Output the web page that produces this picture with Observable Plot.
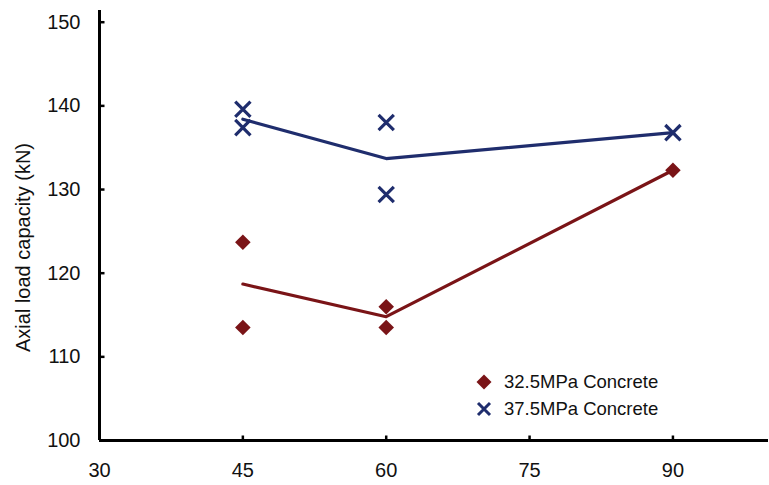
<!DOCTYPE html>
<html>
<head>
<meta charset="utf-8">
<script src="https://cdn.jsdelivr.net/npm/d3@7"></script>
<script src="https://cdn.jsdelivr.net/npm/@observablehq/plot@0.6"></script>
<style>
  html, body { margin: 0; padding: 0; background: #fff; }
  #wrap { position: relative; width: 769px; height: 485px; font-family: "Liberation Sans", Arial, sans-serif; }
  #legend { position: absolute; left: 474px; top: 368px; font-size: 18.5px; color: #111; }
  #legend .row { display: flex; align-items: center; height: 27px; }
  #legend svg { margin-right: 10px; }
</style>
</head>
<body>
<div id="wrap"><div id="legend"></div></div>
<script>
// Data
const angles = [45, 45, 60, 60, 90];
const c325 = [123.7, 113.5, 116.0, 113.5, 132.3];
const c375 = [139.6, 137.4, 138.0, 129.4, 136.8];
const lineAngles = [45, 60, 90];
const line325 = [118.7, 114.8, 132.3];
const line375 = [138.4, 133.7, 136.8];
const xTicks = [30, 45, 60, 75, 90];
const yTicks = [100, 110, 120, 130, 140, 150];
const seriesNames = ["32.5MPa Concrete", "37.5MPa Concrete"];
const yLabel = "Axial load capacity (kN)";
const red = "#7a1417";
const navy = "#1f2d6d";

const pts325 = angles.map((a, i) => ({x: a, y: c325[i]}));
const pts375 = angles.map((a, i) => ({x: a, y: c375[i]}));
const ln325 = lineAngles.map((a, i) => ({x: a, y: line325[i]}));
const ln375 = lineAngles.map((a, i) => ({x: a, y: line375[i]}));

const tickRight = {draw(ctx, size) { ctx.moveTo(0, 0); ctx.lineTo(5, 0); }};
const tickUp = {draw(ctx, size) { ctx.moveTo(0, 0); ctx.lineTo(0, -5); }};

const chart = Plot.plot({
  width: 769,
  height: 485,
  marginLeft: 99,
  marginRight: 1,
  marginTop: 10,
  marginBottom: 45,
  style: {fontFamily: "Liberation Sans, Arial, sans-serif", fontSize: "20px", color: "#111", background: "#fff"},
  x: {domain: [30, 100]},
  y: {domain: [100, 151.4]},
  marks: [
    Plot.axisX({ticks: xTicks, tickSize: 0, tickPadding: 22, tickFormat: d => d, label: null, fontSize: 20}),
    Plot.axisY({ticks: yTicks, tickSize: 0, tickPadding: 19, tickFormat: d => d, label: null, fontSize: 20}),
    Plot.text([yLabel], {text: d => d, frameAnchor: "left", textAnchor: "middle", rotate: -90, dx: -76, dy: 22, fontSize: 20, fill: "#111"}),
    Plot.dot(yTicks.filter(d => d > 100), {x: () => 30, y: d => d, symbol: tickRight, stroke: "#000", strokeWidth: 2.5, r: 1}),
    Plot.dot(xTicks.filter(d => d > 30), {x: d => d, y: () => 100, symbol: tickUp, stroke: "#000", strokeWidth: 2.5, r: 1}),
    Plot.ruleX([30], {stroke: "#000", strokeWidth: 3}),
    Plot.ruleY([100], {stroke: "#000", strokeWidth: 3}),
    Plot.line(ln375, {x: "x", y: "y", stroke: navy, strokeWidth: 3.2}),
    Plot.line(ln325, {x: "x", y: "y", stroke: red, strokeWidth: 3.2}),
    Plot.dot(pts325, {x: "x", y: "y", symbol: d3.symbolDiamond2, fill: red, r: 7}),
    Plot.dot(pts375, {x: "x", y: "y", symbol: "times", stroke: navy, strokeWidth: 3.2, r: 7})
  ]
});
document.getElementById("wrap").prepend(chart);

// Legend (overlay, inside the plot area as in the reference)
const legend = document.getElementById("legend");
const diamond = `<svg width="20" height="20" viewBox="-10 -10 20 20"><path d="M0,-7.5L7.5,0L0,7.5L-7.5,0Z" fill="${red}"/></svg>`;
const cross = `<svg width="20" height="20" viewBox="-10 -10 20 20"><path d="M-6,-6L6,6M-6,6L6,-6" stroke="${navy}" stroke-width="3" fill="none"/></svg>`;
legend.innerHTML = `<div class="row">${diamond}<span>${seriesNames[0]}</span></div><div class="row">${cross}<span>${seriesNames[1]}</span></div>`;
</script>
</body>
</html>
